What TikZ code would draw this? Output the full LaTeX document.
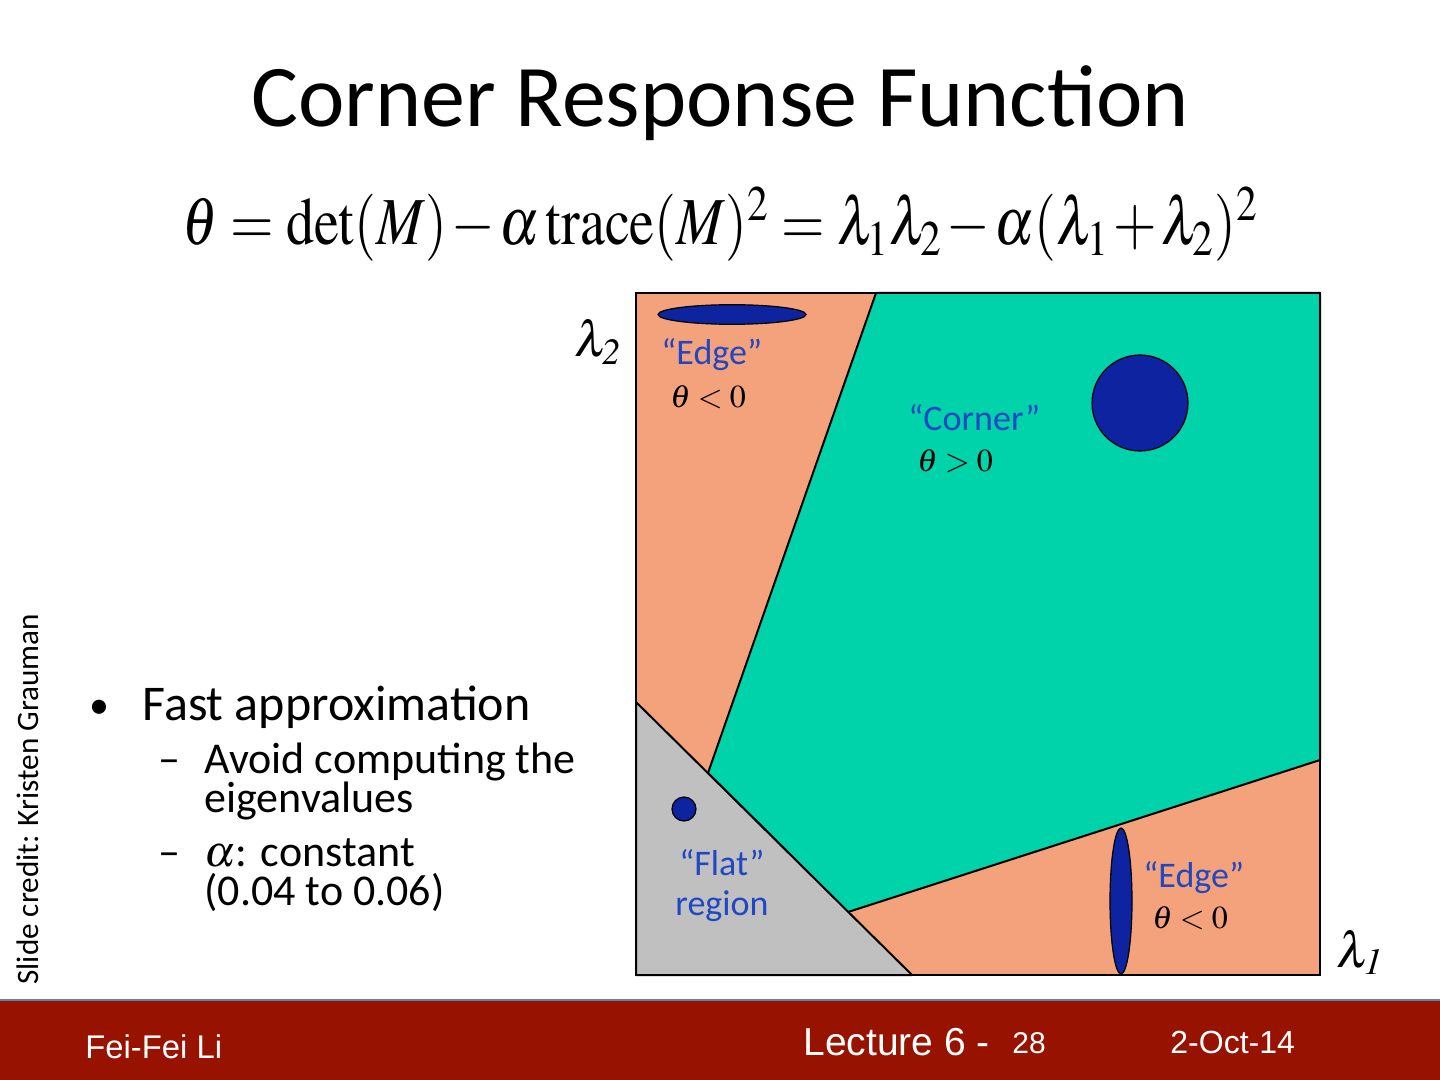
\documentclass[tikz,border=0pt]{standalone}
\usepackage{mathptmx}
\usepackage[no-math]{fontspec}
\setmainfont{Carlito}
\newfontfamily\footfont{Liberation Sans}
\usetikzlibrary{shapes.geometric}
\definecolor{orangeR}{RGB}{244,162,124}
\definecolor{greenR}{RGB}{0,210,170}
\definecolor{grayR}{RGB}{192,192,192}
\definecolor{blobblue}{RGB}{13,35,160}
\definecolor{labelblue}{RGB}{32,72,196}
\definecolor{footred}{RGB}{152,18,0}
\definecolor{footline}{RGB}{96,132,172}
\tikzset{
 lbl/.style={text=labelblue, font=\fontsize{18}{22}\selectfont, inner sep=0pt, anchor=base west},
 mth/.style={text=black, font=\fontsize{16}{20}\selectfont, inner sep=0pt, anchor=base west},
 blob/.style={fill=blobblue, draw=black, line width=0.6pt, inner sep=0pt},
 region/.style={draw=black, line width=1pt, line join=round},
 bul/.style={font=\fontsize{25}{30}\selectfont, inner sep=0pt, anchor=base west},
 subbul/.style={font=\fontsize{22}{26}\selectfont, inner sep=0pt, anchor=base west},
 foot/.style={text=white, inner sep=0pt, anchor=base west}
}
\begin{document}
\begin{tikzpicture}[x=0.5pt,y=-0.5pt]
\useasboundingbox (0,0) rectangle (1440,1080);
% footer
\fill[footred] (0,1000) rectangle (1440,1080);
\draw[footline, line width=1.2pt] (0,1000) -- (1440,1000);
\node[foot, font=\footfont\fontsize{16.4}{18}\selectfont] (ff) at (85,1058) {Fei-Fei Li};
\node[foot, font=\footfont\fontsize{19.5}{22}\selectfont] (lec) at (803,1055) {Lecture 6 -};
\node[foot, font=\footfont\fontsize{15}{18}\selectfont] (pg) at (1012,1053) {28};
\node[foot, font=\footfont\fontsize{16}{18}\selectfont] (dt) at (1170,1053) {2-Oct-14};
% title
\node[inner sep=0pt, anchor=base, font=\fontsize{44}{50}\selectfont] (title) at (720,127) {Corner Response Function};
% formula
\node[inner sep=0pt, anchor=base, font=\fontsize{28}{34}\selectfont] (formula) at (720,245)
 {\scalebox{1}[1.2]{\thickmuskip=4mu\medmuskip=1.5mu$\theta = \det(M) - \alpha\,\mathrm{trace}(M)^2 = \lambda_1\lambda_2 - \alpha(\lambda_1+\lambda_2)^2$}};
% plot regions
\fill[orangeR] (636,293) rectangle (1320,975);
\filldraw[greenR, region] (876,293) -- (1320,293) -- (1320,760) -- (848,912) -- (708,773) -- cycle;
\filldraw[grayR, region] (636,702) -- (912,975) -- (636,975) -- cycle;
\draw[line width=1.2pt] (636,293) rectangle (1320,975);
% blobs
\node[blob, ellipse, minimum width=74pt, minimum height=9.8pt] (e1) at (732,314.5) {};
\node[blob, circle, minimum size=48pt] (c1) at (1140,403) {};
\node[blob, circle, minimum size=12pt] (f1) at (684,809) {};
\node[blob, ellipse, minimum width=11pt, minimum height=73pt] (e2) at (1121,901) {};
% labels
\node[lbl] (edge1) at (661,365) {“Edge”};
\node[mth] (th1) at (670,408) {$\theta<0$};
\node[lbl] (corner) at (908,430) {“Corner”};
\node[mth] (th2) at (917,472) {$\theta>0$};
\node[lbl] (flat) at (679,875) {“Flat”};
\node[lbl] (reg) at (675,915) {region};
\node[lbl] (edge2) at (1143,887) {“Edge”};
\node[mth] (th3) at (1152,928) {$\theta<0$};
\node[inner sep=0pt, anchor=base west, font=\fontsize{25}{30}\selectfont] (l2) at (574,357) {$\lambda_{\mathit{2}}$};
\node[inner sep=0pt, anchor=base west, font=\fontsize{25}{30}\selectfont] (l1) at (1336,967) {$\lambda_{\mathit{1}}$};
% bullets
\node[bul, font=\fontsize{20}{24}\selectfont] (b0) at (89,718) {•};
\node[bul] (b1) at (142,720) {Fast approximation};
\node[subbul] (d1) at (158,773) {–};
\node[subbul] (b2) at (204,773) {Avoid computing the};
\node[subbul] (b3) at (204,812) {eigenvalues};
\node[subbul] (d2) at (158,866) {–};
\node[subbul] (b4) at (204,866) {$\alpha$: constant};
\node[subbul] (b5) at (204,905) {(0.04 to 0.06)};
% slide credit
\node[rotate=90, anchor=base west, inner sep=0pt, font=\fontsize{15.6}{18}\selectfont] (credit) at (39,985) {Slide credit:  Kristen  Grauman};
\end{tikzpicture}
\end{document}
